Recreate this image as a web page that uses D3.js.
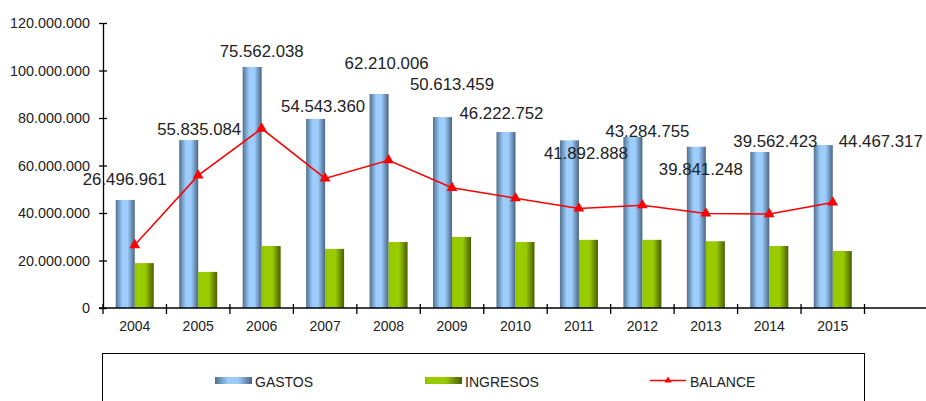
<!DOCTYPE html>
<html>
<head>
<meta charset="utf-8">
<script src="https://cdn.jsdelivr.net/npm/d3@7/dist/d3.min.js"></script>
<style>
  html, body { margin: 0; padding: 0; background: #fff; }
  svg { display: block; }
  text { font-family: "Liberation Sans", Arial, sans-serif; fill: #222; }
</style>
</head>
<body>
<svg id="chart" width="926" height="401"></svg>
<script>
// ---- data ----
const years = ["2004","2005","2006","2007","2008","2009","2010","2011","2012","2013","2014","2015"];
const gastos = [45.5e6, 70.7e6, 101.5e6, 79.6e6, 90.1e6, 80.4e6, 74.1e6, 70.6e6, 72.0e6, 67.9e6, 65.7e6, 68.6e6];
const ingresos = [18.9e6, 15.2e6, 26.1e6, 24.9e6, 27.8e6, 29.9e6, 27.8e6, 28.7e6, 28.7e6, 28.1e6, 26.1e6, 24.0e6];
const balance = [26496961, 55835084, 75562038, 54543360, 62210006, 50613459, 46222752, 41892888, 43284755, 39841248, 39562423, 44467317];
const yTicks = [0, 20e6, 40e6, 60e6, 80e6, 100e6, 120e6];
const seriesNames = ["GASTOS", "INGRESOS", "BALANCE"];

// label placement offsets relative to each BALANCE marker (layout, not data)
const labelDx = [-10, 1, 0, -2, -2, 0, -14, 7, 5, -5, 6, 48];
const labelDy = [-60, -40, -72, -66, -91, -98, -79, -50, -68, -38, -67, -55];

// ---- layout ----
const svg = d3.select("#chart");
const plotLeft = 103, plotRight = 864.5, plotTop = 23, plotBottom = 308;

const locale = d3.formatLocale({decimal: ",", thousands: ".", grouping: [3], currency: ["", ""]});
const fmt = locale.format(",d");

const x = d3.scaleBand().domain(years).range([plotLeft, plotRight]).paddingInner(0).paddingOuter(0);
const y = d3.scaleLinear().domain([0, 120e6]).range([plotBottom, plotTop]);

const defs = svg.append("defs");
const g1 = defs.append("linearGradient").attr("id", "gGastos").attr("x1", 0).attr("x2", 1).attr("y1", 0).attr("y2", 0);
[[0, "#52708f"], [0.35, "#9ccdfd"], [0.62, "#9ccdfd"], [1, "#4a6484"]].forEach(s =>
  g1.append("stop").attr("offset", s[0]).attr("stop-color", s[1]));
const g2 = defs.append("linearGradient").attr("id", "gIngresos").attr("x1", 0).attr("x2", 1).attr("y1", 0).attr("y2", 0);
[[0, "#90c000"], [0.15, "#99cc00"], [0.55, "#99cc00"], [1, "#4a5e00"]].forEach(s =>
  g2.append("stop").attr("offset", s[0]).attr("stop-color", s[1]));

const barW = 19;
const center = d => x(d) + x.bandwidth() / 2;

// bars
svg.append("g").selectAll("rect").data(years).join("rect")
  .attr("x", (d) => center(d) - barW)
  .attr("y", (d, i) => y(gastos[i]))
  .attr("width", barW)
  .attr("height", (d, i) => y(0) - y(gastos[i]))
  .attr("fill", "url(#gGastos)");

svg.append("g").selectAll("rect").data(years).join("rect")
  .attr("x", (d) => center(d))
  .attr("y", (d, i) => y(ingresos[i]))
  .attr("width", barW)
  .attr("height", (d, i) => y(0) - y(ingresos[i]))
  .attr("fill", "url(#gIngresos)");

// y axis
const yAxis = svg.append("g").attr("transform", `translate(${plotLeft},0)`)
  .call(d3.axisLeft(y).tickValues(yTicks).tickSizeInner(4).tickSizeOuter(0).tickPadding(9)
        .tickFormat(d => d === 0 ? "0" : fmt(d)));
yAxis.select(".domain").attr("stroke", "#000").attr("stroke-width", 1.3);
yAxis.selectAll(".tick line").attr("x1", 4).attr("x2", -4).attr("stroke", "#000").attr("stroke-width", 1.3);
yAxis.selectAll(".tick text").style("font-size", "14.4px").attr("fill", "#222");

// x axis labels
const xAxis = svg.append("g").attr("transform", `translate(0,${plotBottom})`)
  .call(d3.axisBottom(x).tickSize(0).tickPadding(13));
xAxis.select(".domain").remove();
xAxis.selectAll(".tick text").style("font-size", "14px").attr("fill", "#222");

// x axis line + boundary ticks
svg.append("line").attr("x1", plotLeft - 4).attr("x2", 926).attr("y1", y(0)).attr("y2", y(0))
  .attr("stroke", "#000").attr("stroke-width", 1.3);
const bounds = years.map(d => x(d)).concat([x(years[years.length - 1]) + x.step()]);
svg.append("g").selectAll("line").data(bounds).join("line")
  .attr("x1", d => d).attr("x2", d => d)
  .attr("y1", y(0) - 4).attr("y2", y(0) + 6)
  .attr("stroke", "#000").attr("stroke-width", 1.3);

// balance line
const line = d3.line().x((d, i) => center(years[i])).y(d => y(d));
svg.append("path").datum(balance).attr("d", line)
  .attr("fill", "none").attr("stroke", "#ff0000").attr("stroke-width", 1.5);
const tri = d3.symbol().type(d3.symbolTriangle).size(50);
svg.append("g").selectAll("path").data(balance).join("path")
  .attr("d", tri)
  .attr("transform", (d, i) => `translate(${center(years[i])},${y(d)})`)
  .attr("fill", "#ff0000");

// data labels
svg.append("g").selectAll("text").data(balance).join("text")
  .attr("x", (d, i) => center(years[i]) + labelDx[i])
  .attr("y", (d, i) => y(d) + labelDy[i])
  .attr("text-anchor", "middle")
  .style("font-size", "16.8px")
  .text(d => fmt(d));

// legend
svg.append("rect").attr("x", 102.5).attr("y", 353.5).attr("width", 762).attr("height", 70)
  .attr("fill", "#fff").attr("stroke", "#000").attr("stroke-width", 1);
const leg = svg.append("g");
const legX = [215, 425, 650];
leg.append("rect").attr("x", legX[0]).attr("y", 377).attr("width", 37).attr("height", 7).attr("fill", "url(#gGastos)");
leg.append("rect").attr("x", legX[1]).attr("y", 377).attr("width", 37).attr("height", 7).attr("fill", "url(#gIngresos)");
leg.append("line").attr("x1", legX[2]).attr("x2", legX[2] + 36).attr("y1", 380.5).attr("y2", 380.5)
  .attr("stroke", "#ff0000").attr("stroke-width", 1.5);
leg.append("path").attr("d", d3.symbol().type(d3.symbolTriangle).size(22)())
  .attr("transform", `translate(${legX[2] + 18},380.5)`).attr("fill", "#ff0000");
leg.selectAll("text").data(seriesNames).join("text")
  .attr("x", (d, i) => legX[i] + 40)
  .attr("y", 387)
  .style("font-size", "14px")
  .text(d => d);
</script>
</body>
</html>
